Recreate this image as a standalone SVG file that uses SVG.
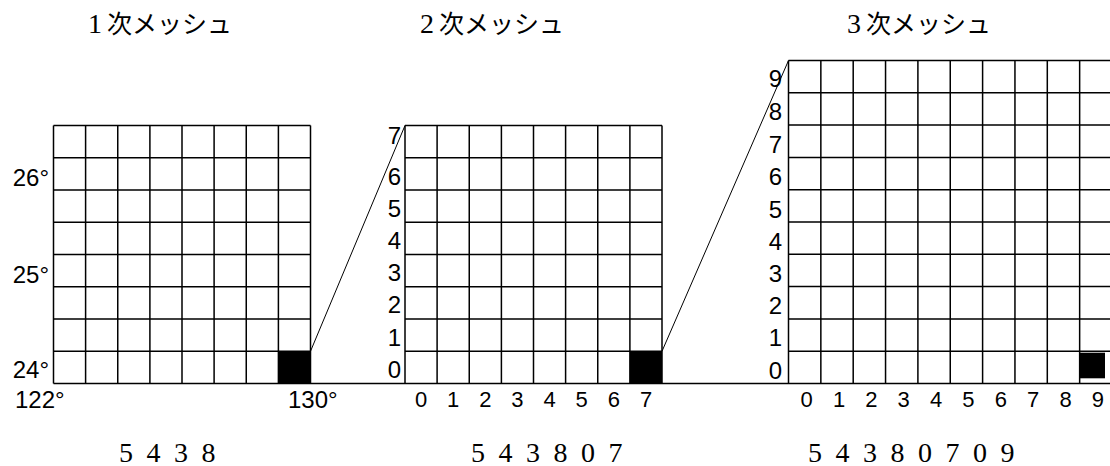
<svg xmlns="http://www.w3.org/2000/svg" width="1110" height="466" viewBox="0 0 1110 466">
<style>
.grid{fill:none;stroke:#000;stroke-width:1.5}
.fill{fill:#000}
.lbl{font-family:"Liberation Sans",Arial,sans-serif;font-size:24px;fill:#000}
.ax{font-family:"Liberation Sans",Arial,sans-serif;font-size:22px;fill:#000;text-anchor:middle}
.end{text-anchor:end}
.title{font-family:"Liberation Serif","Noto Sans CJK JP",serif;font-size:25px;fill:#000}
.num{font-size:28px}
.code{font-family:"Liberation Serif",serif;font-size:28px;fill:#000;letter-spacing:13.5px}
.conn{stroke:#000;stroke-width:1;fill:none}
</style>
<rect width="1110" height="466" fill="#fff"/>

<g id="titles">
<text class="title" x="88" y="33"><tspan class="num">1</tspan><tspan dx="5">次メッシュ</tspan></text>
<text class="title" x="420" y="33"><tspan class="num">2</tspan><tspan dx="5">次メッシュ</tspan></text>
<text class="title" x="847" y="33"><tspan class="num">3</tspan><tspan dx="5">次メッシュ</tspan></text>
</g>

<g id="mesh1">
<rect class="fill" x="278.4" y="351.25" width="32.1" height="32.25"/>
<path class="grid" d="M53.5 125.5V383.5M85.6 125.5V383.5M117.75 125.5V383.5M149.9 125.5V383.5M182 125.5V383.5M214.1 125.5V383.5M246.25 125.5V383.5M278.4 125.5V383.5M310.5 125.5V383.5M53.5 125.5H310.5M53.5 157.75H310.5M53.5 190H310.5M53.5 222.25H310.5M53.5 254.5H310.5M53.5 286.75H310.5M53.5 319H310.5M53.5 351.25H310.5"/>
<text class="lbl end" x="49" y="186">26°</text>
<text class="lbl end" x="49" y="283">25°</text>
<text class="lbl end" x="49" y="378">24°</text>
<text class="lbl" x="15" y="408">122°</text>
<text class="lbl" x="288" y="408">130°</text>
<text class="code" x="119" y="462">5438</text>
</g>

<g id="mesh2">
<rect class="fill" x="629.9" y="351.25" width="32.1" height="32.25"/>
<path class="grid" d="M405 125.5V383.5M437.1 125.5V383.5M469.25 125.5V383.5M501.4 125.5V383.5M533.5 125.5V383.5M565.6 125.5V383.5M597.75 125.5V383.5M629.9 125.5V383.5M662 125.5V383.5M405 125.5H662M405 157.75H662M405 190H662M405 222.25H662M405 254.5H662M405 286.75H662M405 319H662M405 351.25H662"/>
<g class="lbl end">
<text x="401" y="378">0</text>
<text x="401" y="345.5">1</text>
<text x="401" y="313">2</text>
<text x="401" y="281">3</text>
<text x="401" y="248.5">4</text>
<text x="401" y="216.5">5</text>
<text x="401" y="184.5">6</text>
<text x="401" y="143.5">7</text>
</g>
<g class="ax">
<text x="421" y="407">0</text>
<text x="453.2" y="407">1</text>
<text x="485.3" y="407">2</text>
<text x="517.4" y="407">3</text>
<text x="549.5" y="407">4</text>
<text x="581.7" y="407">5</text>
<text x="613.8" y="407">6</text>
<text x="646" y="407">7</text>
</g>
<text class="code" x="471" y="462">543807</text>
</g>

<g id="mesh3">
<rect class="fill" x="1080" y="352.7" width="25" height="25.6"/>
<path class="grid" d="M788.5 60.5V383.5M820.85 60.5V383.5M853.2 60.5V383.5M885.55 60.5V383.5M917.9 60.5V383.5M950.25 60.5V383.5M982.6 60.5V383.5M1014.95 60.5V383.5M1047.3 60.5V383.5M1079.65 60.5V383.5M1112 60.5V383.5M788.5 60.5H1112M788.5 92.8H1112M788.5 125.1H1112M788.5 157.4H1112M788.5 189.7H1112M788.5 222H1112M788.5 254.3H1112M788.5 286.6H1112M788.5 318.9H1112M788.5 351.2H1112"/>
<g class="lbl end">
<text x="782" y="379">0</text>
<text x="782" y="346">1</text>
<text x="782" y="314">2</text>
<text x="782" y="282">3</text>
<text x="782" y="249.5">4</text>
<text x="782" y="217.5">5</text>
<text x="782" y="185">6</text>
<text x="782" y="153">7</text>
<text x="782" y="119.5">8</text>
<text x="782" y="87">9</text>
</g>
<g class="ax">
<text x="806.7" y="407">0</text>
<text x="839" y="407">1</text>
<text x="871.4" y="407">2</text>
<text x="903.7" y="407">3</text>
<text x="936.1" y="407">4</text>
<text x="968.4" y="407">5</text>
<text x="1000.8" y="407">6</text>
<text x="1033.1" y="407">7</text>
<text x="1065.5" y="407">8</text>
<text x="1097.8" y="407">9</text>
</g>
<text class="code" x="808" y="462">54380709</text>
</g>

<g id="connectors">
<path class="grid" d="M53.5 383.5H1110"/>
<path class="conn" d="M310.5 351.25L405 125.5"/>
<path class="conn" d="M662 351.25L788.5 60.5"/>
</g>
</svg>
